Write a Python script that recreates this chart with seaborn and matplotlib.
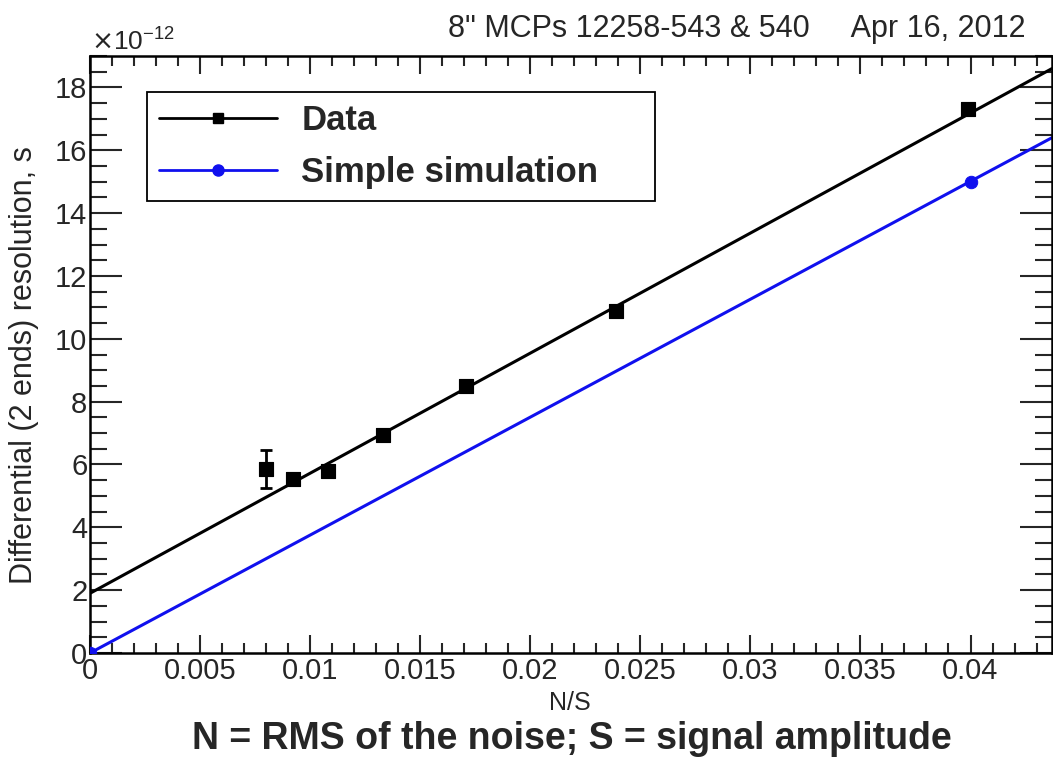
import matplotlib
matplotlib.use("Agg")
import matplotlib.pyplot as plt
import pandas as pd
import seaborn as sns
from matplotlib.ticker import MultipleLocator, FuncFormatter

# measured points (N/S, resolution in ps)
data_ns = [0.0080, 0.0092, 0.0108, 0.0133, 0.0171, 0.0239, 0.0399]
data_res = [5.85, 5.55, 5.80, 6.95, 8.50, 10.90, 17.30]
data_err = [0.60, 0.12, 0.10, 0.10, 0.10, 0.10, 0.10]

# straight-line fit to the data, read at the two ends of the frame
fit_ns = [0.0, 0.0437]
fit_res = [1.9, 18.6]

# simple simulation
sim_ns = [0.0, 0.040]
sim_res = [0.0, 15.0]
sim_line_ns = [0.0, 0.0437]
sim_line_res = [0.0, 16.4]

BLUE = "#1010ee"

sns.set_style("ticks")
plt.rcParams["font.family"] = ["Liberation Sans", "DejaVu Sans"]

fig = plt.figure(figsize=(10.53, 7.57), dpi=100)
ax = fig.add_axes([0.0855, 0.1374, 0.9135, 0.7886])

df_data = pd.DataFrame({"ns": data_ns, "res": data_res})
df_fit = pd.DataFrame({"ns": fit_ns, "res": fit_res})
df_sim = pd.DataFrame({"ns": sim_ns, "res": sim_res})
df_simline = pd.DataFrame({"ns": sim_line_ns, "res": sim_line_res})

sns.lineplot(data=df_fit, x="ns", y="res", color="black", lw=2.2, ax=ax)
sns.lineplot(data=df_simline, x="ns", y="res", color=BLUE, lw=2.2, ax=ax)
ax.errorbar(data_ns, data_res, yerr=data_err, fmt="none", ecolor="black",
            elinewidth=2, capsize=4, capthick=2, zorder=4)
sns.scatterplot(data=df_data, x="ns", y="res", marker="s", s=105, color="black",
                edgecolor="black", ax=ax, zorder=5)
sns.scatterplot(data=df_sim, x="ns", y="res", marker="o", s=80, color=BLUE,
                edgecolor=BLUE, ax=ax, zorder=5)

ax.set_xlim(0, 0.0437)
ax.set_ylim(0, 19)
ax.xaxis.set_major_locator(MultipleLocator(0.005))
ax.xaxis.set_minor_locator(MultipleLocator(0.001))
ax.yaxis.set_major_locator(MultipleLocator(2))
ax.yaxis.set_minor_locator(MultipleLocator(0.5))
ax.xaxis.set_major_formatter(FuncFormatter(lambda v, p: "0" if abs(v) < 1e-9 else f"{v:g}"))
ax.yaxis.set_major_formatter(FuncFormatter(lambda v, p: f"{v:g}"))

ax.tick_params(axis="x", which="major", direction="in", length=13, width=1.5,
               top=True, labelsize=21, pad=3)
ax.tick_params(axis="x", which="minor", direction="in", length=7, width=1.5, top=True)
ax.tick_params(axis="y", which="major", direction="in", length=23, width=1.5,
               right=True, labelsize=21, pad=2)
ax.tick_params(axis="y", which="minor", direction="in", length=12, width=1.5, right=True)
for s in ax.spines.values():
    s.set_visible(True)
    s.set_linewidth(1.8)
    s.set_color("black")

ax.set_xlabel("N/S", fontsize=18, va="center")
ax.xaxis.set_label_coords(0.499, -0.084)
ax.set_ylabel("Differential (2 ends) resolution, s", fontsize=22, va="center")
ax.yaxis.set_label_coords(-0.0686, 0.482)

h_data = plt.Line2D([], [], color="black", lw=2, marker="s", markersize=7)
h_sim = plt.Line2D([], [], color=BLUE, lw=2, marker="o", markersize=8)
leg = ax.legend([h_data, h_sim], ["Data", "Simple simulation"],
                loc="upper left", bbox_to_anchor=(0.059, 0.750, 0.528, 0.190),
                mode="expand", frameon=True, fancybox=False, edgecolor="black",
                handlelength=3.4, borderpad=0.35, labelspacing=0.55,
                handletextpad=0.7, borderaxespad=0,
                prop={"weight": "bold", "size": 25})
leg.get_frame().set_linewidth(1.3)
leg.get_frame().set_alpha(1)

fig.text(0.086, 0.934, r"$\times$10$^{\mathregular{-12}}$", fontsize=19,
         ha="left", va="baseline")
fig.text(0.974, 0.962, "8\" MCPs 12258-543 & 540     Apr 16, 2012", fontsize=22,
         ha="right", va="center")
fig.text(0.5435, 0.024, "N = RMS of the noise; S = signal amplitude", fontsize=27,
         fontweight="bold", ha="center", va="center")

fig.savefig("out.png", dpi=100)
